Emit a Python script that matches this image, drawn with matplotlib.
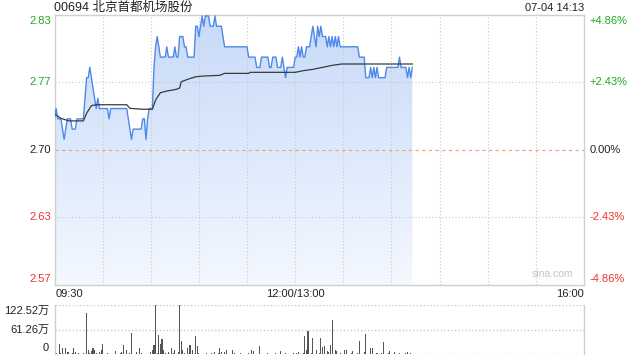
import numpy as np
import matplotlib
matplotlib.use('Agg')
import matplotlib.pyplot as plt
from matplotlib.colors import LinearSegmentedColormap

plt.rcParams['font.family'] = ['Liberation Sans', 'Noto Sans CJK SC', 'DejaVu Sans']

title = '00694 北京首都机场股份'
stamp = '07-04 14:13'
prev_close = 2.70

# one price per minute from 09:30 (lunch break removed)
price = [
    2.73, 2.74, 2.73, 2.73, 2.73, 2.72, 2.71, 2.72, 2.73, 2.73,
    2.73, 2.72, 2.72, 2.72, 2.73, 2.73, 2.73, 2.73, 2.73, 2.75,
    2.77, 2.77, 2.78, 2.77, 2.76, 2.75, 2.74, 2.75, 2.74, 2.74,
    2.74, 2.74, 2.74, 2.74, 2.73, 2.74, 2.74, 2.74, 2.74, 2.74,
    2.74, 2.74, 2.74, 2.74, 2.74, 2.74, 2.73, 2.72, 2.71, 2.72,
    2.72, 2.72, 2.72, 2.72, 2.72, 2.73, 2.73, 2.71, 2.73, 2.74,
    2.74, 2.74, 2.78, 2.80, 2.81, 2.80, 2.79, 2.79, 2.79, 2.79,
    2.80, 2.79, 2.79, 2.79, 2.79, 2.80, 2.79, 2.79, 2.81, 2.81,
    2.81, 2.80, 2.80, 2.79, 2.79, 2.79, 2.79, 2.79, 2.82, 2.82,
    2.81, 2.82, 2.83, 2.82, 2.83, 2.83, 2.83, 2.82, 2.82, 2.82,
    2.83, 2.82, 2.82, 2.82, 2.82, 2.81, 2.80, 2.80, 2.80, 2.80,
    2.80, 2.80, 2.80, 2.80, 2.80, 2.80, 2.80, 2.80, 2.80, 2.80,
    2.80, 2.79, 2.79, 2.79, 2.79, 2.79, 2.78, 2.78, 2.78, 2.79,
    2.79, 2.79, 2.79, 2.79, 2.78, 2.78, 2.79, 2.79, 2.79, 2.78,
    2.78, 2.78, 2.79, 2.78, 2.77, 2.78, 2.78, 2.78, 2.78, 2.78,
    2.79, 2.79, 2.80, 2.79, 2.80, 2.79, 2.79, 2.80, 2.80, 2.80,
    2.81, 2.82, 2.81, 2.80, 2.82, 2.81, 2.82, 2.81, 2.81, 2.81,
    2.80, 2.81, 2.80, 2.81, 2.80, 2.81, 2.80, 2.81, 2.80, 2.80,
    2.80, 2.80, 2.80, 2.80, 2.80, 2.80, 2.80, 2.80, 2.80, 2.80,
    2.79, 2.79, 2.79, 2.79, 2.77, 2.77, 2.77, 2.78, 2.77, 2.78,
    2.77, 2.78, 2.77, 2.77, 2.77, 2.77, 2.77, 2.78, 2.78, 2.78,
    2.78, 2.78, 2.78, 2.78, 2.78, 2.79, 2.78, 2.78, 2.78, 2.78,
    2.77, 2.78, 2.77, 2.78,
]

# average price line, read at its break points (minute, price)
avg_min = [0, 4, 9, 18, 20, 23, 26, 45, 47, 55, 61, 63, 66, 70, 76, 78, 79,
           83, 88, 93, 103, 106, 121, 122, 150, 155, 161, 167, 173, 179, 223]
avg_val = [2.7347, 2.7305, 2.728, 2.728, 2.7354, 2.7428, 2.7437, 2.7437,
           2.7402, 2.7393, 2.7393, 2.7483, 2.7554, 2.757, 2.7587, 2.760,
           2.7661, 2.7684, 2.7709, 2.7716, 2.7723, 2.7742, 2.7742, 2.7752,
           2.7752, 2.7768, 2.7781, 2.780, 2.782, 2.7833, 2.7833]

# volume per minute, in 万
volume = [
    17, 3, 2, 26, 3, 15, 2, 17, 5, 5,
    2, 3, 15, 5, 2, 4, 2, 2, 3, 2,
    103, 11, 3, 9, 17, 11, 3, 2, 7, 12,
    26, 2, 2, 3, 2, 2, 2, 2, 8, 2,
    2, 3, 5, 23, 2, 11, 2, 3, 54, 2,
    2, 5, 2, 15, 4, 2, 2, 2, 2, 2,
    5, 11, 23, 122, 3, 48, 27, 37, 11, 3,
    2, 7, 2, 17, 3, 12, 2, 7, 122, 34,
    11, 3, 2, 15, 23, 23, 11, 2, 45, 21,
    3, 2, 2, 2, 2, 3, 2, 2, 4, 2,
    7, 2, 3, 17, 7, 2, 5, 11, 2, 2,
    2, 12, 3, 2, 2, 2, 3, 2, 2, 2,
    2, 3, 2, 12, 8, 2, 2, 2, 21, 2,
    2, 2, 2, 3, 2, 2, 2, 2, 3, 2,
    2, 8, 2, 2, 3, 2, 2, 2, 2, 3,
    2, 3, 5, 2, 2, 3, 45, 11, 58, 2,
    3, 40, 2, 11, 2, 3, 40, 19, 21, 2,
    8, 5, 23, 85, 2, 11, 8, 2, 3, 2,
    2, 11, 11, 2, 2, 3, 8, 2, 2, 3,
    34, 2, 2, 7, 50, 2, 2, 15, 17, 2,
    2, 3, 2, 2, 3, 30, 2, 2, 3, 8,
    2, 2, 7, 2, 2, 3, 2, 2, 2, 3,
    5, 2, 3, 2,
]

pct_ticks = [4.86, 2.43, 0.00, -2.43, -4.86]
vol_ticks = [122.52, 61.26, 0]
vol_labels = ['122.52万', '61.26万', '0']
time_labels = ['09:30', '12:00/13:00', '16:00']
total_min = 330

green = '#1fa81f'
red = '#f0302a'
blue = '#4d89ea'
border = '#cfcfcf'
gridc = '#c8c8c8'

fig = plt.figure(figsize=(6.4, 3.6), dpi=100)
ax = fig.add_axes([54.5 / 640, 1 - 284.7 / 360, 529.5 / 640, 270 / 360])
vax = fig.add_axes([54.5 / 640, 1 - 354.4 / 360, 529.5 / 640, 49.4 / 360])

lo = prev_close * (1 - 0.0486)
hi = prev_close * (1 + 0.0486)
x = np.arange(len(price))

ax.set_xlim(0, total_min)
ax.set_ylim(lo, hi)

# gradient fill under the price line
poly = ax.fill_between(x, price, lo, color='none', lw=0)
cmap = LinearSegmentedColormap.from_list('f', ['#f4f8ff', '#c7daf8'])
grad = np.linspace(0, 1, 256).reshape(-1, 1)
img = ax.imshow(grad, cmap=cmap, origin='lower', aspect='auto',
                extent=[0, total_min, lo, hi], zorder=1)
img.set_clip_path(poly.get_paths()[0], transform=ax.transData)

ax.plot(x, price, color=blue, lw=1.0, zorder=4)
ax.plot(avg_min, avg_val, color='#3a3a3a', lw=0.9, zorder=5)

for m in range(30, total_min, 30):
    ax.axvline(m, color=gridc, lw=0.8, ls=(0, (1, 2)), zorder=2)
for p in (2.43, -2.43):
    ax.axhline(prev_close * (1 + p / 100), color=gridc, lw=0.8,
               ls=(0, (1, 2)), zorder=2)
ax.axhline(prev_close, color='#e9a27f', lw=0.8, ls=(0, (3, 3)), zorder=2)

ax.set_xticks([])
ax.set_yticks([])
for s in ax.spines.values():
    s.set_color(border)
    s.set_linewidth(1)

# left price labels and right percent labels
for p in pct_ticks:
    yv = prev_close * (1 + p / 100)
    c = green if p > 0 else (red if p < 0 else '#222222')
    off = 0
    if p == pct_ticks[0]:
        off = -0.006
    elif p == pct_ticks[-1]:
        off = 0.006
    ax.text(-0.007, yv + off, '%.2f' % yv, transform=ax.get_yaxis_transform(),
            ha='right', va='center', color=c, fontsize=8)
    lab = ('+%.2f%%' % p) if p > 0 else ('%.2f%%' % p)
    ax.text(1.01, yv + off, lab, transform=ax.get_yaxis_transform(),
            ha='left', va='center', color=c, fontsize=8)

ax.text(0.002, -0.017, time_labels[0], transform=ax.transAxes,
        ha='left', va='top', fontsize=8, color='#222222')
ax.text(150 / total_min, -0.017, time_labels[1], transform=ax.transAxes,
        ha='center', va='top', fontsize=8, color='#222222')
ax.text(1.0, -0.017, time_labels[2], transform=ax.transAxes,
        ha='right', va='top', fontsize=8, color='#222222')
ax.text(0.94, 0.02, 'sina.com', transform=ax.transAxes, ha='center',
        va='bottom', fontsize=7.5, color='#c4c4c4')

fig.text(54.5 / 640, 1 - 8 / 360, title, ha='left', va='center',
         fontsize=9, color='#222222')
fig.text(584 / 640, 1 - 8 / 360, stamp, ha='right', va='center',
         fontsize=8, color='#222222')

# volume panel
vax.bar(x, volume, width=0.65, color='#555555', lw=0)
vax.set_xlim(0, total_min)
vax.set_ylim(0, vol_ticks[0])
for v in vol_ticks:
    vax.axhline(v, color=gridc, lw=1.0, ls=(0, (1, 1.5)), zorder=0)
vax.set_xticks([])
vax.set_yticks([])
for k in ('top', 'bottom'):
    vax.spines[k].set_visible(False)
for k in ('left', 'right'):
    vax.spines[k].set_color(border)
    vax.spines[k].set_linewidth(1)
vol_off = [-14, 0, 15]
for v, lab, off in zip(vol_ticks, vol_labels, vol_off):
    vax.text(-0.01, v + off, lab, transform=vax.get_yaxis_transform(),
             ha='right', va='center', fontsize=8, color='#222222')

fig.savefig('out.png', dpi=100)
